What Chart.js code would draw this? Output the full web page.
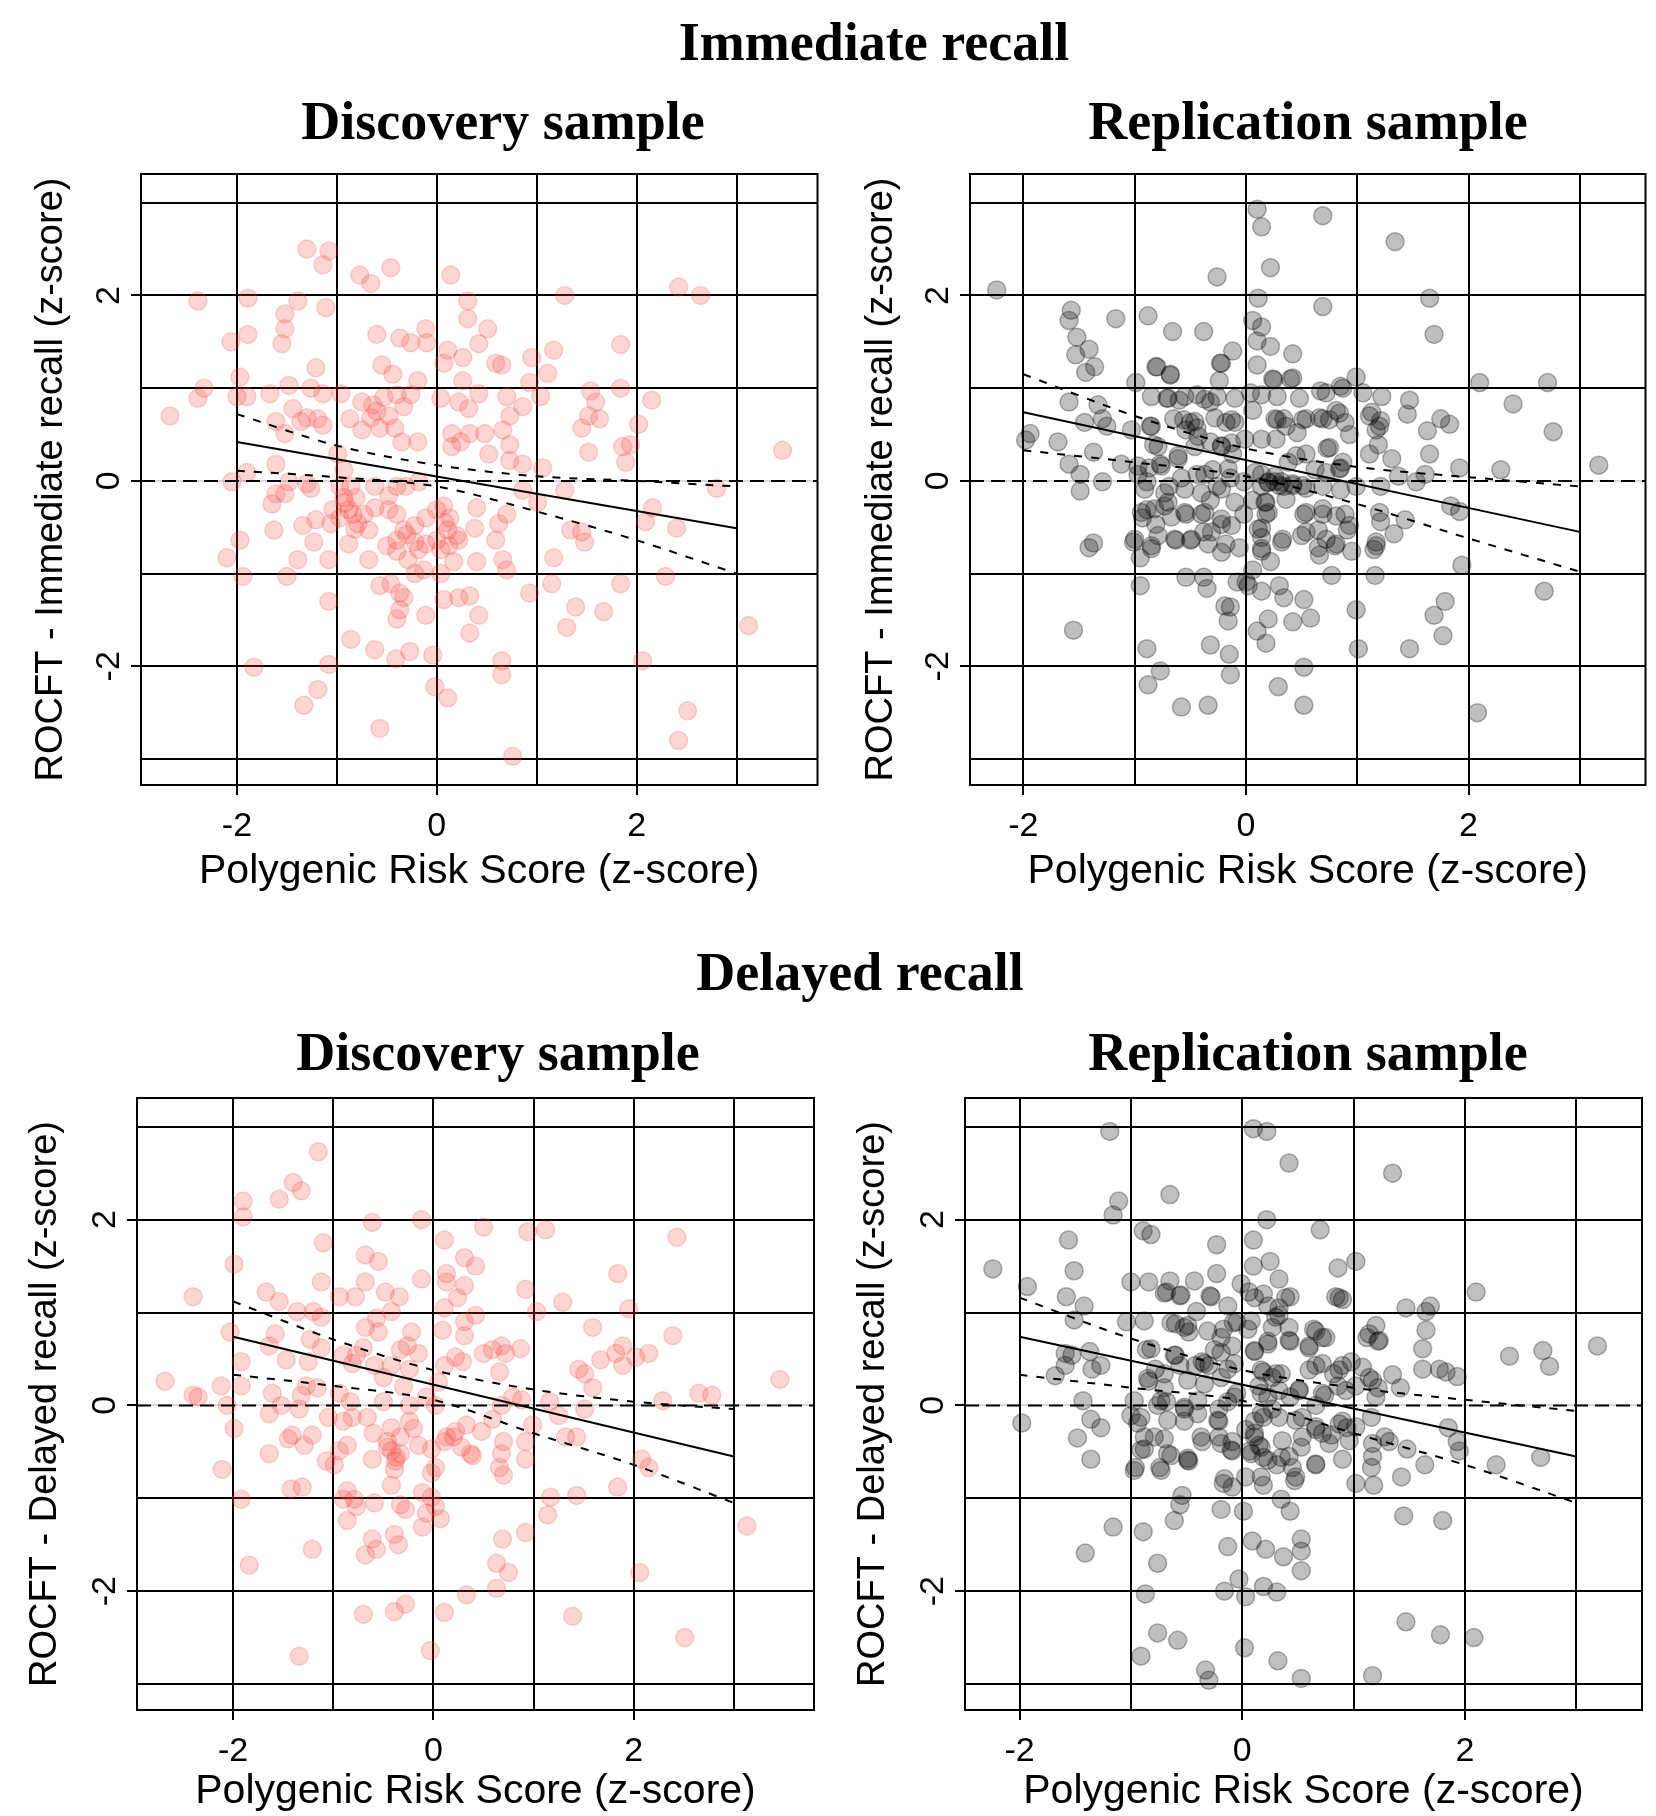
<!DOCTYPE html>
<html>
<head>
<meta charset="utf-8">
<script src="https://cdn.jsdelivr.net/npm/chart.js@4.4.1/dist/chart.umd.min.js"></script>
<style>
  body { margin: 0; background: #fff; width: 1656px; height: 1816px; position: relative; overflow: hidden; }
  .title { position: absolute; width: 800px; text-align: center; white-space: nowrap;
           font-family: "Liberation Serif", "Times New Roman", serif; font-weight: bold;
           font-size: 54px; line-height: 54px; color: #000; }
  canvas { position: absolute; }
</style>
</head>
<body>
<div class="title" style="left:474px;top:15px">Immediate recall</div>
<div class="title" style="left:103px;top:94px">Discovery sample</div>
<div class="title" style="left:908px;top:94px">Replication sample</div>
<div class="title" style="left:460px;top:945px">Delayed recall</div>
<div class="title" style="left:98px;top:1025px">Discovery sample</div>
<div class="title" style="left:908px;top:1025px">Replication sample</div>

<canvas id="immDiscChart" width="828" height="740" style="left:0;top:160px"></canvas>
<canvas id="immRepChart" width="828" height="740" style="left:828px;top:160px"></canvas>
<canvas id="delDiscChart" width="828" height="732" style="left:0;top:1084px"></canvas>
<canvas id="delRepChart" width="828" height="732" style="left:828px;top:1084px"></canvas>

<script>
// tick positions (grid every unit, labels on even values)
const xTicks = [-2, -1, 0, 1, 2, 3];
const yTicks = [-3, -2, -1, 0, 1, 2, 3];
const labelledTicks = [-2, 0, 2];

// regression line ends and confidence band positions
const fitEnds = [-2, 3];
const bandX = [-2, -1, 0, 1, 2, 3];

const immDiscFit = [0.42, -0.51];
const immDiscUpper = [0.72, 0.38, 0.17, 0.05, 0.00, -0.06];
const immDiscLower = [0.11, 0.04, -0.06, -0.33, -0.64, -1.00];

const immRepFit = [0.74, -0.55];
const immRepUpper = [1.15, 0.70, 0.35, 0.15, 0.04, -0.06];
const immRepLower = [0.33, 0.20, 0.05, -0.25, -0.62, -0.98];

const delDiscFit = [0.74, -0.55];
const delDiscUpper = [1.12, 0.71, 0.38, 0.17, 0.04, -0.04];
const delDiscLower = [0.33, 0.21, 0.06, -0.30, -0.64, -1.05];

const delRepFit = [0.74, -0.55];
const delRepUpper = [1.16, 0.72, 0.38, 0.19, 0.06, -0.06];
const delRepLower = [0.33, 0.19, 0.05, -0.30, -0.64, -1.05];

// [PRS z-score, ROCFT z-score]
const immDisc = [
  [-1.30,2.50],[-1.08,2.48],[-1.14,2.33],[-0.77,2.22],[-0.66,2.13],[-0.46,2.30],[0.14,2.22],[2.42,2.09],[2.64,2.00],
  [-2.39,1.94],[-1.89,1.97],[-1.39,1.94],[-1.52,1.80],[-1.11,1.87],[0.31,1.94],[0.31,1.75],[1.28,2.00],[-1.52,1.64],
  [-1.89,1.58],[-2.06,1.50],[-1.55,1.48],[-0.60,1.58],[-0.37,1.54],[-0.26,1.49],[-0.11,1.64],[-0.10,1.49],[0.51,1.64],
  [0.42,1.48],[0.11,1.41],[0.26,1.33],[0.07,1.27],[0.59,1.27],[0.65,1.25],[0.95,1.33],[1.17,1.41],[1.84,1.47],[1.11,1.16],
  [-0.55,1.25],[-0.44,1.15],[-1.21,1.22],[-0.19,1.08],[0.26,1.08],[0.93,1.06],[-1.97,1.12],[-2.33,1.00],[-2.39,0.89],
  [-2.00,0.91],[-1.90,0.91],[-1.67,0.94],[-1.48,1.03],[-1.26,1.00],[-1.14,0.94],[-0.96,0.94],[-2.67,0.70],[-1.44,0.78],
  [-1.30,0.68],[-1.19,0.67],[-1.14,0.60],[-1.36,0.64],[-1.61,0.64],[-1.52,0.51],[-0.87,0.67],[-0.75,0.85],[-0.64,0.82],
  [-0.53,0.90],[-0.40,0.93],[-0.26,0.93],[-0.33,0.80],[-0.66,0.68],[-0.57,0.57],[-0.42,0.57],[-0.75,0.55],[-0.19,0.42],
  [-0.35,0.42],[0.04,0.89],[0.22,0.85],[0.32,0.78],[0.42,0.94],[0.70,0.91],[0.86,0.80],[0.73,0.70],[0.66,0.55],[0.48,0.51],
  [0.33,0.51],[0.15,0.51],[0.15,0.37],[0.24,0.42],[0.73,0.39],[0.52,0.29],[0.73,0.22],[0.86,0.18],[1.54,0.97],[1.59,0.85],
  [1.52,0.70],[1.45,0.57],[1.63,0.67],[1.84,1.00],[2.15,0.87],[2.02,0.61],[1.86,0.37],[1.94,0.39],[1.89,0.20],[1.52,0.31],
  [3.46,0.33],[1.04,0.91],[1.06,0.14],[-1.61,0.18],[-2.05,-0.01],[-1.90,0.09],[-1.48,-0.01],[-1.30,-0.03],[-1.26,-0.08],
  [-1.61,-0.14],[-1.52,-0.14],[-1.65,-0.25],[-0.99,0.29],[-0.93,0.12],[-0.86,-0.06],[-0.93,-0.18],[-0.81,-0.18],[-0.88,-0.31],
  [-0.97,-0.40],[-0.79,-0.46],[-1.06,-0.46],[-1.21,-0.42],[-1.34,-0.48],[-1.63,-0.53],[-1.23,-0.66],[-1.08,-0.85],[-1.39,-0.85],
  [-1.97,-0.64],[-2.10,-0.83],[-1.94,-1.03],[-1.50,-1.03],[-0.88,-0.68],[-0.68,-0.85],[-0.68,-0.53],[-0.62,-0.29],[-0.48,-0.31],
  [-0.40,-0.06],[-0.31,-0.06],[-0.18,-0.01],[-0.40,-0.36],[-0.33,-0.53],[-0.22,-0.48],[-0.11,-0.40],[0.00,-0.31],[0.07,-0.27],
  [0.11,-0.53],[0.20,-0.59],[0.00,-0.64],[-0.11,-0.68],[-0.22,-0.66],[-0.40,-0.64],[-0.40,-0.76],[-0.29,-0.85],[-0.13,-0.96],
  [0.04,-1.00],[0.17,-0.87],[0.38,-0.51],[0.40,-0.29],[0.40,-0.87],[0.59,-0.64],[0.62,-0.46],[0.70,-0.36],[0.66,-0.85],
  [0.70,-0.96],[1.01,-0.23],[0.86,-0.10],[1.28,-0.10],[1.34,-0.53],[1.45,-0.55],[1.48,-0.66],[1.17,-0.83],[2.09,-0.44],
  [2.16,-0.29],[2.40,-0.51],[2.80,-0.08],[2.29,-1.03],[1.84,-1.11],[1.15,-1.11],[0.93,-1.21],[1.39,-1.36],[1.67,-1.41],
  [1.30,-1.58],[3.12,-1.56],[2.06,-1.94],[2.51,-2.48],[2.42,-2.80],[-0.57,-1.13],[-0.46,-1.11],[-0.37,-1.21],[-0.33,-1.26],
  [-0.37,-1.39],[-0.40,-1.49],[-0.11,-1.45],[0.07,-1.28],[0.22,-1.26],[0.33,-1.24],[0.42,-1.45],[0.33,-1.64],[-1.08,-1.30],
  [-0.86,-1.71],[-0.62,-1.82],[-0.41,-1.92],[-0.27,-1.84],[-0.04,-1.88],[0.65,-1.94],[0.65,-2.09],[-1.08,-1.98],[-1.83,-2.01],
  [-1.19,-2.25],[-1.33,-2.42],[-0.02,-2.22],[0.11,-2.34],[-0.57,-2.67],[0.76,-2.97],[-0.97,-0.06],[-0.84,-0.36],[-0.73,-0.36],
  [-1.04,-0.31],[0.13,-0.40],[0.22,-0.64],[-0.18,-0.74],[0.04,-0.74],[-0.22,-1.00],[-0.62,-0.06],[-0.48,-0.16],
  [-0.60,0.75],[-0.48,0.70],[-0.92,-0.24],[-0.82,-0.52],[-0.30,-0.58],[0.08,-0.45],[-0.50,-0.70],[0.12,-0.70]
];

const immRep = [
  [0.10,2.93],[0.14,2.74],[0.69,2.86],[1.34,2.58],[0.22,2.30],[-0.26,2.20],[-2.24,2.06],[0.11,1.97],[0.69,1.88],[1.65,1.97],
  [1.69,1.58],[-1.57,1.84],[-1.59,1.73],[-1.17,1.75],[-0.88,1.78],[-0.66,1.61],[-0.38,1.61],[-1.52,1.55],[-1.41,1.42],
  [-1.53,1.36],[-1.36,1.23],[-1.44,1.17],[-0.81,1.23],[-0.68,1.15],[-0.99,1.06],[-0.12,1.40],[-0.23,1.27],[0.06,1.73],
  [0.14,1.66],[0.10,1.51],[0.22,1.45],[0.10,1.25],[0.42,1.37],[-0.24,1.08],[0.24,1.10],[0.40,1.10],[0.99,1.12],[0.85,1.02],
  [0.67,0.97],[2.10,1.06],[2.71,1.06],[2.40,0.83],[2.76,0.53],[3.17,0.17],[1.22,0.91],[1.47,0.87],[1.45,0.72],[1.13,0.74],
  [1.21,0.65],[1.17,0.55],[1.75,0.67],[1.83,0.61],[1.63,0.54],[1.65,0.29],[1.19,0.39],[1.31,0.24],[1.11,0.29],[1.92,0.14],
  [2.29,0.12],[1.61,0.07],[1.84,-0.27],[1.92,-0.33],[1.94,-0.91],[2.68,-1.19],[1.79,-1.30],[1.69,-1.45],[1.77,-1.67],
  [2.08,-2.50],[0.99,-1.39],[1.01,-1.81],[1.47,-1.81],[1.16,-1.02],[0.77,-1.02],[1.43,-0.42],[1.33,-0.57],[1.21,-0.44],
  [1.17,-0.70],[1.15,-0.74],[0.95,-0.76],[0.91,-0.53],[0.81,-0.68],[0.65,-0.72],[0.89,-0.36],[0.69,-0.36],[0.52,-0.36],
  [0.65,-0.53],[0.50,-0.59],[0.32,-0.66],[0.85,-0.10],[0.69,-0.06],[0.54,-0.08],[0.42,-0.03],[0.26,-0.01],[0.34,-0.06],
  [0.18,-0.23],[0.18,-0.36],[0.14,-0.51],[-0.02,-0.36],[0.06,-0.21],[0.14,-0.61],[0.14,-0.76],[0.22,-0.87],[0.06,-0.96],
  [0.00,-1.09],[0.14,-1.19],[0.30,-1.13],[0.34,-1.26],[0.52,-1.28],[0.58,-1.48],[0.42,-1.52],[0.20,-1.49],[0.10,-1.62],
  [0.18,-1.75],[0.52,-2.01],[0.29,-2.22],[0.52,-2.42],[-0.14,-1.36],[-0.16,-1.51],[-0.19,-1.35],[-0.32,-1.77],[-0.15,-1.87],
  [-0.14,-2.09],[-0.89,-1.81],[-0.77,-2.05],[-0.88,-2.20],[-0.58,-2.44],[-0.34,-2.42],[-1.55,-1.61],[-0.95,-1.13],
  [-0.54,-1.04],[-0.38,-1.04],[-0.35,-1.16],[-0.08,-1.09],[0.02,-1.13],[-1.41,-0.72],[-1.37,-0.67],[-1.01,-0.66],
  [-0.95,-0.83],[-0.85,-0.70],[-0.93,-0.40],[-0.73,-0.27],[-0.63,-0.64],[-0.50,-0.64],[-0.38,-0.55],[-0.34,-0.68],
  [-0.18,-0.68],[-0.06,-0.72],[-0.22,-0.47],[-0.40,-0.36],[-0.54,-0.36],[-0.67,-0.39],[-0.81,-0.47],[-0.89,-0.31],
  [-1.49,-0.11],[-1.29,-0.01],[-1.49,0.07],[-1.59,0.18],[-1.37,0.31],[-1.69,0.42],[-1.94,0.51],[-1.98,0.44],[-1.12,0.18],
  [-0.97,0.07],[-0.87,0.14],[-0.89,-0.01],[-0.69,-0.06],[-0.58,0.03],[-0.44,0.07],[-0.26,-0.06],[-0.14,0.03],[-0.32,-0.21],
  [-0.10,-0.23],[-0.77,0.18],[-0.61,0.24],[-0.79,0.37],[-0.46,0.37],[-0.32,0.42],[-0.22,0.37],[-0.12,0.29],[-0.54,0.55],
  [-0.44,0.57],[-0.50,0.63],[-0.65,0.67],[-0.85,0.59],[-1.03,0.55],[-1.25,0.59],[-1.45,0.63],[-1.29,0.67],[-1.33,0.82],
  [-1.59,0.85],[-0.85,0.91],[-0.71,0.89],[-0.60,0.87],[-0.44,0.93],[-0.32,0.85],[-0.18,0.63],[-0.10,0.89],[0.04,0.95],
  [0.14,0.93],[-0.10,0.63],[0.06,0.76],[0.26,0.67],[0.34,0.67],[0.54,0.67],[0.69,0.67],[0.81,0.76],[0.89,0.63],[0.46,0.52],
  [0.73,0.35],[0.85,0.14],[0.93,0.50],[0.54,0.29],[0.38,0.20],[0.26,0.05],[0.14,-0.06],[0.20,-0.01],[0.32,-0.01],[0.14,0.07],
  [-0.02,-0.01],[0.62,0.12],[0.99,-0.06],[1.21,-0.06],[1.37,0.05],[1.53,-0.01],[-0.30,0.12],
  [-0.80,1.23],[-0.68,1.14],[-0.22,1.27],[0.25,1.09],[0.42,1.11],[-0.70,0.89],[-0.55,0.91],[-0.37,0.88],[-0.26,0.91],
  [0.28,0.91],[0.48,0.89],[0.72,0.95],[0.87,1.00],[1.05,0.95],[-0.56,0.66],[-0.46,0.64],[-0.28,0.68],[-0.13,0.66],
  [0.28,0.66],[0.36,0.59],[0.51,0.66],[0.66,0.68],[0.75,0.66],[0.84,0.73],[1.11,0.70],[1.20,0.59],[-0.86,0.59],[-0.83,0.39],
  [-0.43,0.48],[-0.22,0.38],[-0.13,0.41],[-0.01,0.45],[0.14,0.45],[0.27,0.45],[0.45,0.27],[0.75,0.36],[0.87,0.20],
  [-0.61,0.27],[-0.76,0.16],[-0.97,0.16],[-0.37,0.07],[-0.16,0.13],[0.08,0.09],[0.20,-0.02],[0.30,-0.05],[0.42,-0.05],
  [0.51,-0.05],[0.72,0.09],[0.84,0.13],[-0.91,-0.09],[-0.73,-0.13],[-0.55,-0.09],[-0.40,-0.13],[-0.22,-0.09],[0.17,-0.23],
  [0.20,-0.34],[0.36,-0.20],[-0.94,-0.34],[-0.82,-0.30],[-0.70,-0.23],[-0.55,-0.34],[-0.37,-0.34],[-0.22,-0.41],
  [-0.13,-0.48],[0.11,-0.52],[0.33,-0.63],[0.54,-0.34],[0.69,-0.30],[0.81,-0.38],[0.93,-0.48],[-1.00,-0.63],[-0.79,-0.59],
  [-0.64,-0.63],[-0.49,-0.63],[-0.31,-0.55],[0.14,-0.73],[0.54,-0.55],[0.72,-0.63],[0.80,-0.70],[1.17,-0.66],[1.20,-0.34],
  [-0.85,-0.73],[-0.22,-0.77],[0.66,-0.80]
];

const delDisc = [
  [-1.15,2.73],[-1.40,2.40],[-1.32,2.31],[-1.54,2.22],[-1.90,2.20],[-1.90,2.03],[-0.61,1.97],[-0.12,2.00],[0.50,1.92],
  [0.94,1.87],[1.12,1.89],[2.43,1.81],[0.11,1.78],[-1.10,1.75],[-1.99,1.52],[-0.68,1.62],[-0.55,1.55],[0.31,1.59],[0.42,1.50],
  [0.13,1.42],[0.13,1.33],[-0.12,1.36],[-0.68,1.33],[-1.12,1.33],[0.31,1.29],[0.92,1.25],[1.84,1.42],[-2.40,1.17],[-1.67,1.22],
  [-1.54,1.12],[-0.94,1.17],[-0.78,1.17],[-0.48,1.22],[-0.34,1.17],[0.24,1.16],[1.29,1.11],[1.95,1.04],[1.03,1.01],[-1.36,1.01],
  [-1.20,1.01],[-1.12,0.95],[-0.42,1.01],[0.11,1.05],[0.42,0.97],[0.31,0.90],[-0.57,0.94],[-0.68,0.84],[-0.55,0.79],[0.09,0.81],
  [0.31,0.75],[-0.22,0.79],[1.59,0.84],[2.39,0.75],[-2.03,0.79],[-1.58,0.77],[-1.23,0.71],[-1.64,0.64],[-1.47,0.49],[-1.92,0.47],
  [-1.25,0.47],[-1.12,0.62],[-0.90,0.54],[-0.77,0.54],[-0.81,0.45],[-0.59,0.43],[-0.42,0.43],[-0.33,0.60],[-0.26,0.64],
  [-0.15,0.56],[-0.24,0.39],[0.11,0.43],[0.22,0.52],[0.29,0.47],[0.50,0.56],[0.59,0.60],[0.68,0.64],[0.72,0.56],[0.87,0.61],
  [0.66,0.36],[1.45,0.39],[1.51,0.34],[1.67,0.49],[1.82,0.56],[1.89,0.64],[1.89,0.43],[2.02,0.52],[2.15,0.56],[1.59,0.19],
  [3.46,0.28],[2.65,0.13],[2.78,0.11],[2.29,0.05],[-2.68,0.26],[-2.40,0.11],[-2.35,0.09],[-2.12,0.21],[-1.92,0.21],[-2.06,0.00],
  [-1.99,-0.25],[-2.11,-0.69],[-1.92,-1.01],[-1.61,0.13],[-1.52,0.00],[-1.64,-0.09],[-1.32,0.11],[-1.27,0.21],[-1.16,0.19],
  [-1.34,-0.04],[-0.94,0.13],[-0.83,0.04],[-1.05,-0.13],[-0.90,-0.17],[-0.81,-0.13],[-0.66,-0.13],[-0.50,0.04],[-0.24,0.00],
  [-0.07,0.09],[0.02,0.00],[-0.24,-0.17],[-0.42,-0.24],[-0.33,-0.34],[-0.46,-0.39],[-0.42,-0.49],[-0.37,-0.56],[-0.61,-0.58],
  [-0.86,-0.43],[-0.94,-0.49],[-1.07,-0.60],[-0.99,-0.64],[-1.21,-0.32],[-1.29,-0.43],[-1.45,-0.36],[-1.41,-0.32],[-1.64,-0.52],
  [-1.42,-0.90],[-1.31,-0.88],[-0.86,-0.92],[-0.79,-1.01],[-0.90,-1.01],[-0.77,-1.09],[-0.59,-1.05],[-0.86,-1.24],[-0.42,-0.86],
  [-0.39,-0.69],[-0.15,-0.43],[-0.02,-0.47],[-0.02,-0.73],[0.11,-0.39],[0.20,-0.34],[0.22,-0.28],[0.33,-0.21],[0.39,-0.54],
  [0.48,-0.28],[0.59,-0.15],[0.68,0.00],[0.79,0.09],[0.88,0.06],[0.70,-0.39],[0.68,-0.52],[0.92,-0.39],[0.92,-0.58],[0.99,-0.21],
  [1.16,0.04],[1.25,-0.11],[1.51,-0.04],[1.32,-0.34],[1.43,-0.34],[0.66,-0.67],[0.70,-0.75],[2.08,-0.58],[2.15,-0.67],
  [1.84,-0.88],[1.17,-0.99],[1.43,-0.97],[1.14,-1.18],[3.13,-1.30],[-0.11,-0.94],[-0.02,-0.99],[0.02,-1.09],[0.07,-1.22],
  [-0.07,-1.16],[-0.11,-1.31],[-0.33,-1.07],[-0.28,-1.12],[-0.39,-1.39],[-0.35,-1.50],[-0.61,-1.44],[-0.57,-1.55],[-0.68,-1.61],
  [-1.21,-1.55],[-1.84,-1.72],[0.69,-1.44],[0.92,-1.37],[0.63,-1.70],[0.75,-1.80],[0.63,-1.97],[0.33,-2.04],[0.11,-2.23],
  [-0.39,-2.22],[-0.28,-2.14],[-0.70,-2.25],[2.06,-1.80],[1.39,-2.27],[2.51,-2.50],[-1.34,-2.70],[-0.03,-2.64],[-0.46,-0.45],
  [-0.33,-0.52],[0.13,-0.34],[0.37,-0.52],[0.02,-0.67],
  [-0.70,0.62],[-0.50,0.30],[-0.30,0.20],[-0.60,-0.30],[-0.38,-0.60],[-0.20,-0.25],[0.28,-0.45],[0.05,0.25]
];

const delRep = [
  [-1.19,2.95],[0.10,2.98],[0.22,2.95],[0.42,2.61],[1.35,2.50],[-1.11,2.20],[-1.16,2.05],[-0.65,2.27],[0.22,2.00],[0.70,1.89],
  [-0.89,1.88],[-0.82,1.84],[-1.56,1.78],[-0.23,1.73],[0.10,1.78],[-2.24,1.47],[-1.51,1.45],[-1.93,1.28],[-1.58,1.17],
  [-1.42,1.07],[-1.51,0.92],[-1.00,1.33],[-0.84,1.33],[-0.65,1.34],[-0.68,1.22],[-0.55,1.19],[-0.43,1.34],[-0.28,1.17],
  [-0.23,1.42],[0.10,1.50],[0.25,1.55],[0.33,1.36],[-0.01,1.31],[0.06,1.22],[0.19,1.20],[0.43,1.17],[0.33,1.05],[0.86,1.48],
  [1.02,1.55],[0.84,1.17],[0.90,1.14],[2.10,1.22],[1.47,1.05],[1.69,1.07],[1.65,1.01],[1.65,0.81],[1.62,0.61],[1.62,0.39],
  [1.77,0.39],[1.83,0.36],[1.93,0.31],[2.40,0.53],[2.70,0.59],[2.76,0.42],[3.19,0.64],[1.20,0.86],[1.22,0.69],[1.12,0.73],
  [1.35,0.33],[1.42,0.19],[1.14,0.30],[1.22,0.19],[-1.04,0.90],[-0.88,0.91],[-0.41,1.01],[-0.52,0.84],[-0.60,0.88],
  [-0.48,0.79],[-0.17,0.82],[-0.05,0.90],[0.05,0.82],[-0.09,0.64],[-0.25,0.60],[-0.36,0.47],[-0.30,0.43],[-0.42,0.43],
  [-0.60,0.54],[-0.56,0.43],[-0.86,0.60],[-0.78,0.39],[-0.84,0.26],[-0.70,0.19],[-0.13,0.39],[0.11,0.58],[0.23,0.69],
  [0.43,0.69],[0.33,0.97],[0.27,0.84],[0.64,0.82],[0.72,0.73],[0.60,0.64],[0.66,0.43],[0.19,0.36],[0.27,0.30],[0.35,0.34],
  [0.51,0.17],[0.43,0.09],[0.23,0.09],[0.15,0.21],[0.82,0.34],[0.90,0.43],[0.98,0.47],[0.86,0.21],[0.74,0.11],[1.02,0.21],
  [0.66,0.00],[-1.59,0.56],[-1.53,0.54],[-1.37,0.58],[-1.27,0.43],[-1.35,0.39],[-1.59,0.43],[-1.68,0.32],[-1.43,0.05],
  [-1.98,-0.19],[-1.36,-0.15],[-1.27,-0.24],[-1.48,-0.35],[-1.36,-0.58],[-1.00,-0.11],[-0.94,-0.19],[-0.88,-0.34],
  [-0.88,-0.47],[-0.96,-0.67],[-0.74,-0.67],[-0.64,-0.54],[-0.70,-0.36],[-0.48,-0.60],[-0.76,0.00],[-0.68,0.04],[-0.52,-0.04],
  [-0.40,-0.09],[-0.52,-0.17],[-0.36,-0.39],[-0.21,-0.17],[-0.21,-0.34],[-0.09,-0.39],[0.03,-0.26],[0.11,-0.17],[0.19,-0.13],
  [0.27,-0.04],[0.11,-0.34],[0.15,-0.43],[0.07,-0.49],[0.19,-0.56],[-0.09,-0.49],[-0.17,-0.84],[-0.09,-0.88],[0.03,-0.77],
  [0.19,-0.86],[0.31,-0.64],[0.35,-0.56],[0.45,-0.67],[0.47,-0.81],[0.53,-0.45],[0.66,-0.64],[0.78,-0.41],[0.80,-0.32],
  [0.66,-0.26],[0.54,-0.13],[0.90,-0.17],[0.94,-0.24],[0.90,-0.58],[1.02,-0.84],[1.16,-0.13],[1.16,-0.67],[1.18,-0.86],
  [1.28,-0.34],[1.32,-0.39],[1.48,-0.47],[1.64,-0.64],[1.43,-0.77],[1.85,-0.24],[1.93,-0.39],[1.95,-0.49],[2.28,-0.64],
  [2.68,-0.56],[1.45,-1.19],[1.80,-1.24],[0.35,-1.01],[0.43,-1.14],[0.01,-1.14],[-0.19,-1.12],[-0.54,-0.97],[-0.56,-1.07],
  [-0.61,-1.24],[-0.89,-1.36],[-1.16,-1.31],[-1.41,-1.59],[-0.76,-1.70],[-0.13,-1.52],[0.09,-1.46],[0.21,-1.55],[0.37,-1.63],
  [0.53,-1.44],[0.53,-1.57],[0.53,-1.78],[-0.03,-1.87],[-0.16,-2.00],[0.03,-2.06],[0.19,-1.95],[0.31,-2.01],[-0.87,-2.03],
  [-0.76,-2.45],[-0.58,-2.53],[-0.91,-2.70],[-0.33,-2.85],[-0.30,-2.96],[0.02,-2.61],[0.32,-2.75],[0.53,-2.94],[1.17,-2.91],
  [1.47,-2.33],[1.78,-2.47],[2.08,-2.50],[-0.21,-0.04],[-0.05,0.13],[-0.13,0.04],
  [-0.70,1.21],[-0.56,1.18],[-0.29,1.18],[-0.13,1.07],[0.11,1.16],[0.23,1.07],[0.39,1.16],[0.87,1.16],[-0.64,0.89],
  [-0.49,0.86],[-0.31,0.80],[-0.19,0.73],[-0.08,0.89],[0.08,0.91],[0.30,0.95],[0.42,0.84],[0.66,0.80],[0.75,0.73],
  [1.14,0.77],[1.23,0.70],[-0.82,0.61],[-0.61,0.54],[-0.34,0.45],[-0.19,0.57],[-0.07,0.45],[0.11,0.59],[0.23,0.66],
  [0.42,0.70],[0.60,0.62],[-0.85,0.29],[-0.70,0.34],[-0.49,0.27],[-0.34,0.23],[-0.19,0.30],[0.17,0.38],[0.30,0.34],
  [0.60,0.38],[0.72,0.45],[0.87,0.38],[1.08,0.41],[1.17,0.27],[-0.97,0.05],[-0.73,0.05],[-0.52,-0.02],[-0.40,0.05],
  [-0.07,0.09],[0.17,0.13],[0.33,0.16],[0.51,0.16],[0.72,0.13],[0.93,0.16],[1.20,0.09],[-0.91,-0.13],[-0.67,-0.16],
  [-0.22,-0.16],[0.17,-0.09],[0.33,-0.13],[0.48,-0.16],[0.66,-0.23],[0.87,-0.20],[1.02,-0.23],[-0.79,-0.34],[-0.37,-0.34],
  [-0.19,-0.41],[0.11,-0.30],[0.17,-0.45],[0.36,-0.38],[0.54,-0.34],[0.72,-0.30],[0.96,-0.38],[1.17,-0.41],[-0.91,-0.48],
  [-0.67,-0.52],[-0.49,-0.59],[-0.10,-0.48],[0.08,-0.52],[0.23,-0.59],[0.42,-0.55],[0.66,-0.63],[1.17,-0.55],[-0.97,-0.70],
  [-0.73,-0.70],[-0.49,-0.57],[-0.16,-0.79],[0.17,-0.77],[0.48,-0.77]
];

const pink = { fill: "rgba(245, 70, 60, 0.22)", edge: "rgba(245, 70, 60, 0.22)" };
const grey = { fill: "rgba(0, 0, 0, 0.25)", edge: "rgba(0, 0, 0, 0.3)" };

Chart.defaults.font.family = '"Liberation Sans", Arial, sans-serif';
Chart.defaults.color = "#000";

// box round the plot region, like R's box()
const boxPlugin = {
  id: "box",
  afterDraw(chart) {
    const a = chart.chartArea;
    const ctx = chart.ctx;
    ctx.save();
    ctx.strokeStyle = "#000";
    ctx.lineWidth = 2;
    ctx.strokeRect(a.left, a.top, a.right - a.left, a.bottom - a.top);
    ctx.restore();
  }
};

function pts(xs, ys) {
  return xs.map((x, i) => ({ x: x, y: ys[i] }));
}

function makePanel(p) {
  const lineBase = { showLine: true, pointRadius: 0, borderColor: "#000", borderWidth: 2, fill: false };
  new Chart(document.getElementById(p.id), {
    type: "scatter",
    data: {
      datasets: [
        Object.assign({}, lineBase, { data: pts([p.xMin, p.xMax], [0, 0]), borderDash: [14, 7] }),
        Object.assign({}, lineBase, { data: pts(fitEnds, p.fit) }),
        Object.assign({}, lineBase, { data: pts(bandX, p.upper), borderDash: [8, 9], tension: 0.3 }),
        Object.assign({}, lineBase, { data: pts(bandX, p.lower), borderDash: [8, 9], tension: 0.3 }),
        {
          data: p.points.map((d) => ({ x: d[0], y: d[1] })),
          pointRadius: 9,
          pointBackgroundColor: p.color.fill,
          pointBorderColor: p.color.edge,
          pointBorderWidth: 1.5
        }
      ]
    },
    options: {
      responsive: false,
      animation: false,
      devicePixelRatio: 1,
      layout: { padding: { top: 14, right: p.padRight, left: 0, bottom: 0 } },
      plugins: { legend: { display: false }, tooltip: { enabled: false } },
      scales: {
        x: {
          type: "linear",
          min: p.xMin,
          max: p.xMax,
          afterBuildTicks: (axis) => { axis.ticks = xTicks.map((v) => ({ value: v })); },
          afterFit: (axis) => {
            axis.height = p.xAxisHeight;
            axis.paddingLeft = 0;
            axis.paddingRight = 0;
          },
          border: { display: false },
          grid: {
            color: "#000",
            lineWidth: 2,
            tickLength: 10,
            tickWidth: 2,
            tickColor: (c) => (labelledTicks.includes(c.tick.value) ? "#000" : "rgba(0,0,0,0)")
          },
          ticks: {
            autoSkip: false,
            maxRotation: 0,
            padding: 11,
            font: { size: 34 },
            callback: (v) => (labelledTicks.includes(v) ? String(v) : "")
          },
          title: {
            display: true,
            text: "Polygenic Risk Score (z-score)",
            font: { size: 41 },
            padding: { top: 0, bottom: p.xTitlePad }
          }
        },
        y: {
          type: "linear",
          min: -3.28,
          max: 3.31,
          afterBuildTicks: (axis) => { axis.ticks = yTicks.map((v) => ({ value: v })); },
          afterFit: (axis) => {
            axis.width = p.yAxisWidth;
            axis.paddingTop = 0;
            axis.paddingBottom = 0;
          },
          border: { display: false },
          grid: {
            color: (c) => (c.tick.value === 0 ? "rgba(0,0,0,0.15)" : "#000"),
            lineWidth: 2,
            tickLength: 10,
            tickWidth: 2,
            tickColor: (c) => (labelledTicks.includes(c.tick.value) ? "#000" : "rgba(0,0,0,0)")
          },
          ticks: {
            autoSkip: false,
            minRotation: 90,
            maxRotation: 90,
            crossAlign: "center",
            padding: 6,
            font: { size: 34 },
            callback: (v) => (labelledTicks.includes(v) ? String(v) : "")
          },
          title: {
            display: true,
            text: p.yTitle,
            font: { size: 38 },
            padding: { top: p.yTitlePad, bottom: 0 }
          }
        }
      }
    },
    plugins: [boxPlugin]
  });
}

makePanel({
  id: "immDiscChart", points: immDisc, fit: immDiscFit, upper: immDiscUpper, lower: immDiscLower,
  color: pink, xMin: -2.96, xMax: 3.81, yAxisWidth: 141, padRight: 8, xAxisHeight: 115, xTitlePad: 4,
  yTitle: "ROCFT - Immediate recall (z-score)", yTitlePad: 29
});
makePanel({
  id: "immRepChart", points: immRep, fit: immRepFit, upper: immRepUpper, lower: immRepLower,
  color: grey, xMin: -2.48, xMax: 3.59, yAxisWidth: 142, padRight: 8, xAxisHeight: 115, xTitlePad: 4,
  yTitle: "ROCFT - Immediate recall (z-score)", yTitlePad: 31
});
makePanel({
  id: "delDiscChart", points: delDisc, fit: delDiscFit, upper: delDiscUpper, lower: delDiscLower,
  color: pink, xMin: -2.96, xMax: 3.80, yAxisWidth: 137, padRight: 14, xAxisHeight: 106, xTitlePad: 0,
  yTitle: "ROCFT - Delayed recall (z-score)", yTitlePad: 23
});
makePanel({
  id: "delRepChart", points: delRep, fit: delRepFit, upper: delRepUpper, lower: delRepLower,
  color: grey, xMin: -2.49, xMax: 3.59, yAxisWidth: 137, padRight: 14, xAxisHeight: 106, xTitlePad: 0,
  yTitle: "ROCFT - Delayed recall (z-score)", yTitlePad: 23
});
</script>
</body>
</html>
